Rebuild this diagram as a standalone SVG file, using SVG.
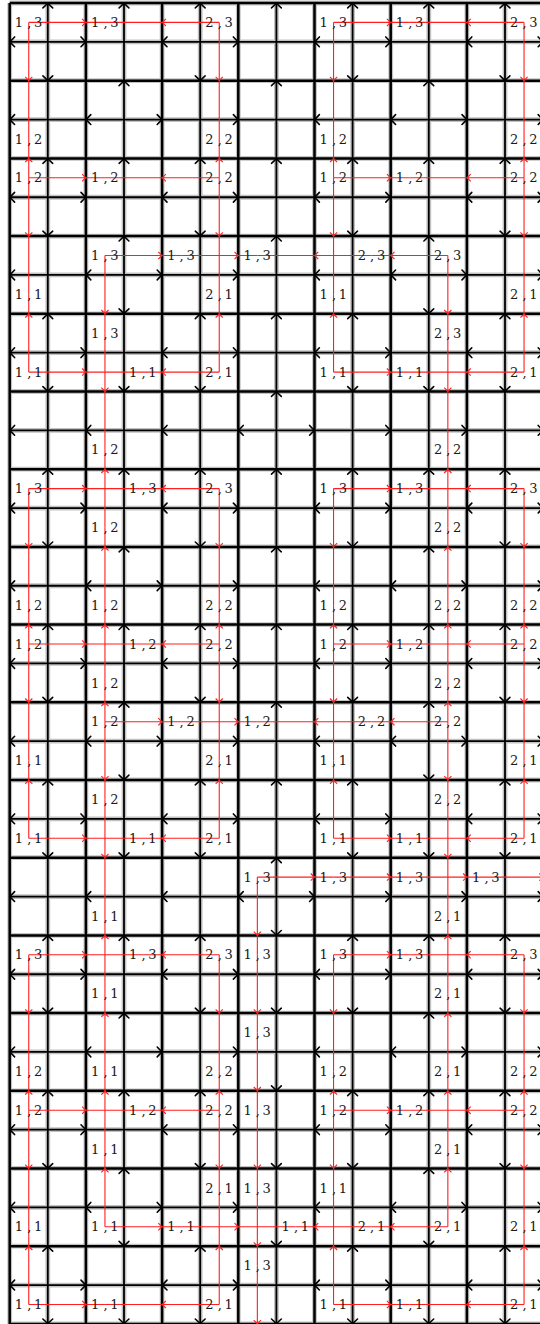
<svg xmlns="http://www.w3.org/2000/svg" width="540" height="1324" viewBox="0 0 540 1324">
<style>
.gy{stroke:#c2c2c2;stroke-width:4.8;fill:none}
.kb{stroke:#000;stroke-width:2.5;fill:none}
.km{stroke:#000;stroke-width:1.8;fill:none}
.ah{stroke:#000;stroke-width:1.6;fill:none;stroke-linecap:round;stroke-linejoin:round}
.re path{stroke:#ff1f1f;stroke-width:1.1;fill:none}
text{font-family:"DejaVu Serif","Liberation Serif",serif;font-size:13px;fill:#1a1a1a}
</style>
<defs>
<marker id="ra" markerUnits="userSpaceOnUse" orient="auto" markerWidth="10" markerHeight="10" viewBox="-5 -5 10 10" refX="0" refY="0" overflow="visible"><path d="M-3.8,-3.6Q-1.3,-1 0,0Q-1.3,1 -3.8,3.6" fill="none" stroke="#ff1f1f" stroke-width="1.1"/></marker>
<path id="bR" class="ah" d="M-4.9,-4.9Q-1.7,-1.4 0,0Q-1.7,1.4 -4.9,4.9"/>
<path id="bL" class="ah" d="M4.9,-4.9Q1.7,-1.4 0,0Q1.7,1.4 4.9,4.9"/>
<path id="bU" class="ah" d="M-4.9,4.9Q-1.4,1.7 0,0Q1.4,1.7 4.9,4.9"/>
<path id="bD" class="ah" d="M-4.9,-4.9Q-1.4,-1.7 0,0Q1.4,-1.7 4.9,-4.9"/>
<g id="hA"><use href="#bL" x="9.7"/><use href="#bR" x="85.9"/><use href="#bL" x="162.1"/><use href="#bR" x="238.3"/><use href="#bL" x="314.5"/><use href="#bR" x="390.7"/><use href="#bL" x="466.9"/><use href="#bR" x="543.1"/></g>
<g id="hB"><use href="#bL" x="9.7"/><use href="#bL" x="85.9"/><use href="#bR" x="162.1"/><use href="#bR" x="238.3"/><use href="#bL" x="314.5"/><use href="#bL" x="390.7"/><use href="#bR" x="466.9"/><use href="#bR" x="543.1"/></g>
<g id="hC"><use href="#bL" x="9.7"/><use href="#bL" x="85.9"/><use href="#bL" x="162.1"/><use href="#bL" x="238.3"/><use href="#bR" x="314.5"/><use href="#bR" x="390.7"/><use href="#bR" x="466.9"/><use href="#bR" x="543.1"/></g>
<g id="vE"><use href="#bU" y="3"/><use href="#bD" y="80.7"/><use href="#bU" y="158.4"/><use href="#bD" y="236.1"/><use href="#bU" y="313.8"/><use href="#bD" y="391.5"/><use href="#bU" y="469.2"/><use href="#bD" y="546.9"/><use href="#bU" y="624.6"/><use href="#bD" y="702.3"/><use href="#bU" y="780"/><use href="#bD" y="857.7"/><use href="#bU" y="935.4"/><use href="#bD" y="1013.1"/><use href="#bU" y="1090.8"/><use href="#bD" y="1168.5"/><use href="#bU" y="1246.2"/><use href="#bD" y="1323.9"/></g>
<g id="vO"><use href="#bU" y="3"/><use href="#bU" y="80.7"/><use href="#bU" y="158.4"/><use href="#bU" y="236.1"/><use href="#bD" y="313.8"/><use href="#bD" y="391.5"/><use href="#bU" y="469.2"/><use href="#bU" y="546.9"/><use href="#bU" y="624.6"/><use href="#bU" y="702.3"/><use href="#bD" y="780"/><use href="#bD" y="857.7"/><use href="#bU" y="935.4"/><use href="#bU" y="1013.1"/><use href="#bU" y="1090.8"/><use href="#bU" y="1168.5"/><use href="#bD" y="1246.2"/><use href="#bD" y="1323.9"/></g>
<g id="vM"><use href="#bU" y="3"/><use href="#bU" y="80.7"/><use href="#bU" y="158.4"/><use href="#bU" y="236.1"/><use href="#bU" y="313.8"/><use href="#bU" y="391.5"/><use href="#bU" y="469.2"/><use href="#bU" y="546.9"/><use href="#bU" y="624.6"/><use href="#bU" y="702.3"/><use href="#bU" y="780"/><use href="#bU" y="857.7"/><use href="#bD" y="935.4"/><use href="#bD" y="1013.1"/><use href="#bD" y="1090.8"/><use href="#bD" y="1168.5"/><use href="#bD" y="1246.2"/><use href="#bD" y="1323.9"/></g>
</defs>
<rect width="540" height="1324" fill="#fff"/>
<g id="grid">
<path class="gy" d="M9.7 3V1324M85.9 3V1324M162.1 3V1324M238.3 3V1324M314.5 3V1324M390.7 3V1324M466.9 3V1324M47.8 3V1324M124 3V1324M200.2 3V1324M276.4 3V1324M352.6 3V1324M428.8 3V1324M505 3V1324M9.7 3H540M9.7 80.7H540M9.7 158.4H540M9.7 236.1H540M9.7 313.8H540M9.7 391.5H540M9.7 469.2H540M9.7 546.9H540M9.7 624.6H540M9.7 702.3H540M9.7 780H540M9.7 857.7H540M9.7 935.4H540M9.7 1013.1H540M9.7 1090.8H540M9.7 1168.5H540M9.7 1246.2H540M9.7 1323.9H540M9.7 41.85H540M9.7 119.55H540M9.7 197.25H540M9.7 274.95H540M9.7 352.65H540M9.7 430.35H540M9.7 508.05H540M9.7 585.75H540M9.7 663.45H540M9.7 741.15H540M9.7 818.85H540M9.7 896.55H540M9.7 974.25H540M9.7 1051.95H540M9.7 1129.65H540M9.7 1207.35H540M9.7 1285.05H540"/>
<path class="kb" d="M9.7 3V1324M85.9 3V1324M162.1 3V1324M238.3 3V1324M314.5 3V1324M390.7 3V1324M466.9 3V1324M9.7 3H540M9.7 80.7H540M9.7 158.4H540M9.7 236.1H540M9.7 313.8H540M9.7 391.5H540M9.7 469.2H540M9.7 546.9H540M9.7 624.6H540M9.7 702.3H540M9.7 780H540M9.7 857.7H540M9.7 935.4H540M9.7 1013.1H540M9.7 1090.8H540M9.7 1168.5H540M9.7 1246.2H540M9.7 1323.9H540"/>
<path class="km" d="M47.8 3V1324M124 3V1324M200.2 3V1324M276.4 3V1324M352.6 3V1324M428.8 3V1324M505 3V1324M9.7 41.85H540M9.7 119.55H540M9.7 197.25H540M9.7 274.95H540M9.7 352.65H540M9.7 430.35H540M9.7 508.05H540M9.7 585.75H540M9.7 663.45H540M9.7 741.15H540M9.7 818.85H540M9.7 896.55H540M9.7 974.25H540M9.7 1051.95H540M9.7 1129.65H540M9.7 1207.35H540M9.7 1285.05H540"/>
</g>
<g id="connectors">
<g id="black-heads">
<use href="#hA" y="41.85"/><use href="#hB" y="119.55"/><use href="#hA" y="197.25"/><use href="#hB" y="274.95"/><use href="#hA" y="352.65"/><use href="#hC" y="430.35"/><use href="#hA" y="508.05"/><use href="#hB" y="585.75"/><use href="#hA" y="663.45"/><use href="#hB" y="741.15"/><use href="#hA" y="818.85"/><use href="#hC" y="896.55"/><use href="#hA" y="974.25"/><use href="#hB" y="1051.95"/><use href="#hA" y="1129.65"/><use href="#hB" y="1207.35"/><use href="#hA" y="1285.05"/>
<use href="#vE" x="47.8"/><use href="#vO" x="124"/><use href="#vE" x="200.2"/><use href="#vM" x="276.4"/><use href="#vE" x="352.6"/><use href="#vO" x="428.8"/><use href="#vE" x="505"/>
</g>
<g id="red-edges" class="re" marker-mid="url(#ra)">
<path d="M28.75 22.4H85.9H104.95"/><path d="M219.25 22.4H162.1H104.95"/><path d="M333.55 22.4H390.7H409.75"/><path d="M524.05 22.4H466.9H409.75"/>
<path d="M28.75 22.4V80.7V139"/><path d="M219.25 22.4V80.7V139"/><path d="M333.55 22.4V80.7V139"/><path d="M524.05 22.4V80.7V139"/>
<path d="M28.75 177.8V158.4V139"/><path d="M219.25 177.8V158.4V139"/><path d="M333.55 177.8V158.4V139"/><path d="M524.05 177.8V158.4V139"/>
<path d="M28.75 177.8H85.9H104.95"/><path d="M219.25 177.8H162.1H104.95"/><path d="M333.55 177.8H390.7H409.75"/><path d="M524.05 177.8H466.9H409.75"/>
<path d="M28.75 177.8V236.1V294.4"/><path d="M219.25 177.8V236.1V294.4"/><path d="M333.55 177.8V236.1V294.4"/><path d="M524.05 177.8V236.1V294.4"/>
<path d="M104.95 255.5H162.1H181.15"/><path d="M181.15 255.5H238.3H257.35"/><path d="M371.65 255.5H314.5H257.35"/><path d="M447.85 255.5H390.7H371.65"/>
<path d="M28.75 372.1V313.8V294.4"/><path d="M219.25 372.1V313.8V294.4"/><path d="M333.55 372.1V313.8V294.4"/><path d="M524.05 372.1V313.8V294.4"/>
<path d="M104.95 255.5V313.8V333.2"/><path d="M447.85 255.5V313.8V333.2"/>
<path d="M28.75 372.1H85.9H143.05"/><path d="M219.25 372.1H162.1H143.05"/><path d="M333.55 372.1H390.7H409.75"/><path d="M524.05 372.1H466.9H409.75"/>
<path d="M104.95 333.2V391.5V449.8"/><path d="M447.85 333.2V391.5V449.8"/>
<path d="M104.95 527.5V469.2V449.8"/><path d="M447.85 527.5V469.2V449.8"/>
<path d="M28.75 488.6H85.9H143.05"/><path d="M219.25 488.6H162.1H143.05"/><path d="M333.55 488.6H390.7H409.75"/><path d="M524.05 488.6H466.9H409.75"/>
<path d="M28.75 488.6V546.9V605.2"/><path d="M219.25 488.6V546.9V605.2"/><path d="M333.55 488.6V546.9V605.2"/><path d="M524.05 488.6V546.9V605.2"/>
<path d="M104.95 605.2V546.9V527.5"/><path d="M447.85 605.2V546.9V527.5"/>
<path d="M28.75 644V624.6V605.2"/><path d="M219.25 644V624.6V605.2"/><path d="M333.55 644V624.6V605.2"/><path d="M524.05 644V624.6V605.2"/>
<path d="M104.95 682.9V624.6V605.2"/><path d="M447.85 682.9V624.6V605.2"/>
<path d="M28.75 644H85.9H143.05"/><path d="M219.25 644H162.1H143.05"/><path d="M333.55 644H390.7H409.75"/><path d="M524.05 644H466.9H409.75"/>
<path d="M28.75 644V702.3V760.6"/><path d="M219.25 644V702.3V760.6"/><path d="M333.55 644V702.3V760.6"/><path d="M524.05 644V702.3V760.6"/>
<path d="M104.95 721.7V702.3V682.9"/><path d="M447.85 721.7V702.3V682.9"/>
<path d="M104.95 721.7H162.1H181.15"/><path d="M181.15 721.7H238.3H257.35"/><path d="M371.65 721.7H314.5H257.35"/><path d="M447.85 721.7H390.7H371.65"/>
<path d="M28.75 838.3V780V760.6"/><path d="M219.25 838.3V780V760.6"/><path d="M333.55 838.3V780V760.6"/><path d="M524.05 838.3V780V760.6"/>
<path d="M104.95 721.7V780V799.4"/><path d="M447.85 721.7V780V799.4"/>
<path d="M28.75 838.3H85.9H143.05"/><path d="M219.25 838.3H162.1H143.05"/><path d="M333.55 838.3H390.7H409.75"/><path d="M524.05 838.3H466.9H409.75"/>
<path d="M104.95 799.4V857.7V916"/><path d="M447.85 799.4V857.7V916"/>
<path d="M104.95 993.7V935.4V916"/><path d="M447.85 993.7V935.4V916"/>
<path d="M257.35 877.1H314.5H333.55"/><path d="M333.55 877.1H390.7H409.75"/><path d="M409.75 877.1H466.9H485.95"/><path d="M485.95 877.1H543.1H562"/>
<path d="M257.35 877.1V935.4V954.8"/>
<path d="M28.75 954.8H85.9H143.05"/><path d="M219.25 954.8H162.1H143.05"/><path d="M333.55 954.8H390.7H409.75"/><path d="M524.05 954.8H466.9H409.75"/>
<path d="M28.75 954.8V1013.1V1071.4"/><path d="M219.25 954.8V1013.1V1071.4"/><path d="M333.55 954.8V1013.1V1071.4"/><path d="M524.05 954.8V1013.1V1071.4"/>
<path d="M104.95 1071.4V1013.1V993.7"/><path d="M447.85 1071.4V1013.1V993.7"/>
<path d="M257.35 954.8V1013.1V1032.5"/>
<path d="M28.75 1110.2V1090.8V1071.4"/><path d="M219.25 1110.2V1090.8V1071.4"/><path d="M333.55 1110.2V1090.8V1071.4"/><path d="M524.05 1110.2V1090.8V1071.4"/>
<path d="M104.95 1149.1V1090.8V1071.4"/><path d="M447.85 1149.1V1090.8V1071.4"/>
<path d="M257.35 1032.5V1090.8V1110.2"/>
<path d="M28.75 1110.2H85.9H143.05"/><path d="M219.25 1110.2H162.1H143.05"/><path d="M333.55 1110.2H390.7H409.75"/><path d="M524.05 1110.2H466.9H409.75"/>
<path d="M28.75 1110.2V1168.5V1226.8"/><path d="M219.25 1110.2V1168.5V1187.9"/><path d="M333.55 1110.2V1168.5V1187.9"/><path d="M524.05 1110.2V1168.5V1226.8"/>
<path d="M104.95 1226.8V1168.5V1149.1"/><path d="M447.85 1226.8V1168.5V1149.1"/>
<path d="M257.35 1110.2V1168.5V1187.9"/>
<path d="M104.95 1226.8H162.1H181.15"/><path d="M181.15 1226.8H238.3H295.45"/><path d="M371.65 1226.8H314.5H295.45"/><path d="M447.85 1226.8H390.7H371.65"/>
<path d="M28.75 1304.5V1246.2V1226.8"/><path d="M219.25 1304.5V1246.2V1187.9"/><path d="M333.55 1304.5V1246.2V1187.9"/><path d="M524.05 1304.5V1246.2V1226.8"/>
<path d="M257.35 1187.9V1246.2V1265.6"/><path d="M257.35 1265.6V1323.9V1345"/>
<path d="M28.75 1304.5H85.9H104.95"/><path d="M219.25 1304.5H162.1H104.95"/><path d="M333.55 1304.5H390.7H409.75"/><path d="M524.05 1304.5H466.9H409.75"/>
</g>
</g>
<g id="r0-c0"><text x="14.8 27.2 30.7 34" y="27">1, 3</text></g>
<g id="r0-c1"><text x="91 103.4 106.9 110.2" y="27">1, 3</text></g>
<g id="r0-c2"><text x="205.3 217.7 221.2 224.5" y="27">2, 3</text></g>
<g id="r0-c4"><text x="319.6 332 335.5 338.8" y="27">1, 3</text></g>
<g id="r0-c5"><text x="395.8 408.2 411.7 415" y="27">1, 3</text></g>
<g id="r0-c6"><text x="510.1 522.5 526 529.3" y="27">2, 3</text></g>
<g id="r1-c0"><text x="14.8 27.2 30.7 34" y="143.6">1, 2</text></g>
<g id="r1-c2"><text x="205.3 217.7 221.2 224.5" y="143.6">2, 2</text></g>
<g id="r1-c4"><text x="319.6 332 335.5 338.8" y="143.6">1, 2</text></g>
<g id="r1-c6"><text x="510.1 522.5 526 529.3" y="143.6">2, 2</text></g>
<g id="r2-c0"><text x="14.8 27.2 30.7 34" y="182.4">1, 2</text></g>
<g id="r2-c1"><text x="91 103.4 106.9 110.2" y="182.4">1, 2</text></g>
<g id="r2-c2"><text x="205.3 217.7 221.2 224.5" y="182.4">2, 2</text></g>
<g id="r2-c4"><text x="319.6 332 335.5 338.8" y="182.4">1, 2</text></g>
<g id="r2-c5"><text x="395.8 408.2 411.7 415" y="182.4">1, 2</text></g>
<g id="r2-c6"><text x="510.1 522.5 526 529.3" y="182.4">2, 2</text></g>
<g id="r3-c0"><text x="14.8 27.2 30.7 34" y="299">1, 1</text></g>
<g id="r3-c1"><text x="91 103.4 106.9 110.2" y="260.1">1, 3</text></g>
<g id="r3-c2"><text x="167.2 179.6 183.1 186.4" y="260.1">1, 3</text><text x="205.3 217.7 221.2 224.5" y="299">2, 1</text></g>
<g id="r3-c3"><text x="243.4 255.8 259.3 262.6" y="260.1">1, 3</text></g>
<g id="r3-c4"><text x="357.7 370.1 373.6 376.9" y="260.1">2, 3</text><text x="319.6 332 335.5 338.8" y="299">1, 1</text></g>
<g id="r3-c5"><text x="433.9 446.3 449.8 453.1" y="260.1">2, 3</text></g>
<g id="r3-c6"><text x="510.1 522.5 526 529.3" y="299">2, 1</text></g>
<g id="r4-c0"><text x="14.8 27.2 30.7 34" y="376.7">1, 1</text></g>
<g id="r4-c1"><text x="91 103.4 106.9 110.2" y="337.8">1, 3</text><text x="129.1 141.5 145 148.3" y="376.7">1, 1</text></g>
<g id="r4-c2"><text x="205.3 217.7 221.2 224.5" y="376.7">2, 1</text></g>
<g id="r4-c4"><text x="319.6 332 335.5 338.8" y="376.7">1, 1</text></g>
<g id="r4-c5"><text x="433.9 446.3 449.8 453.1" y="337.8">2, 3</text><text x="395.8 408.2 411.7 415" y="376.7">1, 1</text></g>
<g id="r4-c6"><text x="510.1 522.5 526 529.3" y="376.7">2, 1</text></g>
<g id="r5-c1"><text x="91 103.4 106.9 110.2" y="454.4">1, 2</text></g>
<g id="r5-c5"><text x="433.9 446.3 449.8 453.1" y="454.4">2, 2</text></g>
<g id="r6-c0"><text x="14.8 27.2 30.7 34" y="493.2">1, 3</text></g>
<g id="r6-c1"><text x="129.1 141.5 145 148.3" y="493.2">1, 3</text><text x="91 103.4 106.9 110.2" y="532.1">1, 2</text></g>
<g id="r6-c2"><text x="205.3 217.7 221.2 224.5" y="493.2">2, 3</text></g>
<g id="r6-c4"><text x="319.6 332 335.5 338.8" y="493.2">1, 3</text></g>
<g id="r6-c5"><text x="395.8 408.2 411.7 415" y="493.2">1, 3</text><text x="433.9 446.3 449.8 453.1" y="532.1">2, 2</text></g>
<g id="r6-c6"><text x="510.1 522.5 526 529.3" y="493.2">2, 3</text></g>
<g id="r7-c0"><text x="14.8 27.2 30.7 34" y="609.8">1, 2</text></g>
<g id="r7-c1"><text x="91 103.4 106.9 110.2" y="609.8">1, 2</text></g>
<g id="r7-c2"><text x="205.3 217.7 221.2 224.5" y="609.8">2, 2</text></g>
<g id="r7-c4"><text x="319.6 332 335.5 338.8" y="609.8">1, 2</text></g>
<g id="r7-c5"><text x="433.9 446.3 449.8 453.1" y="609.8">2, 2</text></g>
<g id="r7-c6"><text x="510.1 522.5 526 529.3" y="609.8">2, 2</text></g>
<g id="r8-c0"><text x="14.8 27.2 30.7 34" y="648.6">1, 2</text></g>
<g id="r8-c1"><text x="129.1 141.5 145 148.3" y="648.6">1, 2</text><text x="91 103.4 106.9 110.2" y="687.5">1, 2</text></g>
<g id="r8-c2"><text x="205.3 217.7 221.2 224.5" y="648.6">2, 2</text></g>
<g id="r8-c4"><text x="319.6 332 335.5 338.8" y="648.6">1, 2</text></g>
<g id="r8-c5"><text x="395.8 408.2 411.7 415" y="648.6">1, 2</text><text x="433.9 446.3 449.8 453.1" y="687.5">2, 2</text></g>
<g id="r8-c6"><text x="510.1 522.5 526 529.3" y="648.6">2, 2</text></g>
<g id="r9-c0"><text x="14.8 27.2 30.7 34" y="765.2">1, 1</text></g>
<g id="r9-c1"><text x="91 103.4 106.9 110.2" y="726.3">1, 2</text></g>
<g id="r9-c2"><text x="167.2 179.6 183.1 186.4" y="726.3">1, 2</text><text x="205.3 217.7 221.2 224.5" y="765.2">2, 1</text></g>
<g id="r9-c3"><text x="243.4 255.8 259.3 262.6" y="726.3">1, 2</text></g>
<g id="r9-c4"><text x="357.7 370.1 373.6 376.9" y="726.3">2, 2</text><text x="319.6 332 335.5 338.8" y="765.2">1, 1</text></g>
<g id="r9-c5"><text x="433.9 446.3 449.8 453.1" y="726.3">2, 2</text></g>
<g id="r9-c6"><text x="510.1 522.5 526 529.3" y="765.2">2, 1</text></g>
<g id="r10-c0"><text x="14.8 27.2 30.7 34" y="842.9">1, 1</text></g>
<g id="r10-c1"><text x="91 103.4 106.9 110.2" y="804">1, 2</text><text x="129.1 141.5 145 148.3" y="842.9">1, 1</text></g>
<g id="r10-c2"><text x="205.3 217.7 221.2 224.5" y="842.9">2, 1</text></g>
<g id="r10-c4"><text x="319.6 332 335.5 338.8" y="842.9">1, 1</text></g>
<g id="r10-c5"><text x="433.9 446.3 449.8 453.1" y="804">2, 2</text><text x="395.8 408.2 411.7 415" y="842.9">1, 1</text></g>
<g id="r10-c6"><text x="510.1 522.5 526 529.3" y="842.9">2, 1</text></g>
<g id="r11-c1"><text x="91 103.4 106.9 110.2" y="920.6">1, 1</text></g>
<g id="r11-c3"><text x="243.4 255.8 259.3 262.6" y="881.7">1, 3</text></g>
<g id="r11-c4"><text x="319.6 332 335.5 338.8" y="881.7">1, 3</text></g>
<g id="r11-c5"><text x="395.8 408.2 411.7 415" y="881.7">1, 3</text><text x="433.9 446.3 449.8 453.1" y="920.6">2, 1</text></g>
<g id="r11-c6"><text x="472 484.4 487.9 491.2" y="881.7">1, 3</text></g>
<g id="r12-c0"><text x="14.8 27.2 30.7 34" y="959.4">1, 3</text></g>
<g id="r12-c1"><text x="129.1 141.5 145 148.3" y="959.4">1, 3</text><text x="91 103.4 106.9 110.2" y="998.3">1, 1</text></g>
<g id="r12-c2"><text x="205.3 217.7 221.2 224.5" y="959.4">2, 3</text></g>
<g id="r12-c3"><text x="243.4 255.8 259.3 262.6" y="959.4">1, 3</text></g>
<g id="r12-c4"><text x="319.6 332 335.5 338.8" y="959.4">1, 3</text></g>
<g id="r12-c5"><text x="395.8 408.2 411.7 415" y="959.4">1, 3</text><text x="433.9 446.3 449.8 453.1" y="998.3">2, 1</text></g>
<g id="r12-c6"><text x="510.1 522.5 526 529.3" y="959.4">2, 3</text></g>
<g id="r13-c0"><text x="14.8 27.2 30.7 34" y="1076">1, 2</text></g>
<g id="r13-c1"><text x="91 103.4 106.9 110.2" y="1076">1, 1</text></g>
<g id="r13-c2"><text x="205.3 217.7 221.2 224.5" y="1076">2, 2</text></g>
<g id="r13-c3"><text x="243.4 255.8 259.3 262.6" y="1037.1">1, 3</text></g>
<g id="r13-c4"><text x="319.6 332 335.5 338.8" y="1076">1, 2</text></g>
<g id="r13-c5"><text x="433.9 446.3 449.8 453.1" y="1076">2, 1</text></g>
<g id="r13-c6"><text x="510.1 522.5 526 529.3" y="1076">2, 2</text></g>
<g id="r14-c0"><text x="14.8 27.2 30.7 34" y="1114.8">1, 2</text></g>
<g id="r14-c1"><text x="129.1 141.5 145 148.3" y="1114.8">1, 2</text><text x="91 103.4 106.9 110.2" y="1153.7">1, 1</text></g>
<g id="r14-c2"><text x="205.3 217.7 221.2 224.5" y="1114.8">2, 2</text></g>
<g id="r14-c3"><text x="243.4 255.8 259.3 262.6" y="1114.8">1, 3</text></g>
<g id="r14-c4"><text x="319.6 332 335.5 338.8" y="1114.8">1, 2</text></g>
<g id="r14-c5"><text x="395.8 408.2 411.7 415" y="1114.8">1, 2</text><text x="433.9 446.3 449.8 453.1" y="1153.7">2, 1</text></g>
<g id="r14-c6"><text x="510.1 522.5 526 529.3" y="1114.8">2, 2</text></g>
<g id="r15-c0"><text x="14.8 27.2 30.7 34" y="1231.4">1, 1</text></g>
<g id="r15-c1"><text x="91 103.4 106.9 110.2" y="1231.4">1, 1</text></g>
<g id="r15-c2"><text x="205.3 217.7 221.2 224.5" y="1192.5">2, 1</text><text x="167.2 179.6 183.1 186.4" y="1231.4">1, 1</text></g>
<g id="r15-c3"><text x="243.4 255.8 259.3 262.6" y="1192.5">1, 3</text><text x="281.5 293.9 297.4 300.7" y="1231.4">1, 1</text></g>
<g id="r15-c4"><text x="319.6 332 335.5 338.8" y="1192.5">1, 1</text><text x="357.7 370.1 373.6 376.9" y="1231.4">2, 1</text></g>
<g id="r15-c5"><text x="433.9 446.3 449.8 453.1" y="1231.4">2, 1</text></g>
<g id="r15-c6"><text x="510.1 522.5 526 529.3" y="1231.4">2, 1</text></g>
<g id="r16-c0"><text x="14.8 27.2 30.7 34" y="1309.1">1, 1</text></g>
<g id="r16-c1"><text x="91 103.4 106.9 110.2" y="1309.1">1, 1</text></g>
<g id="r16-c2"><text x="205.3 217.7 221.2 224.5" y="1309.1">2, 1</text></g>
<g id="r16-c3"><text x="243.4 255.8 259.3 262.6" y="1270.2">1, 3</text></g>
<g id="r16-c4"><text x="319.6 332 335.5 338.8" y="1309.1">1, 1</text></g>
<g id="r16-c5"><text x="395.8 408.2 411.7 415" y="1309.1">1, 1</text></g>
<g id="r16-c6"><text x="510.1 522.5 526 529.3" y="1309.1">2, 1</text></g>
</svg>
